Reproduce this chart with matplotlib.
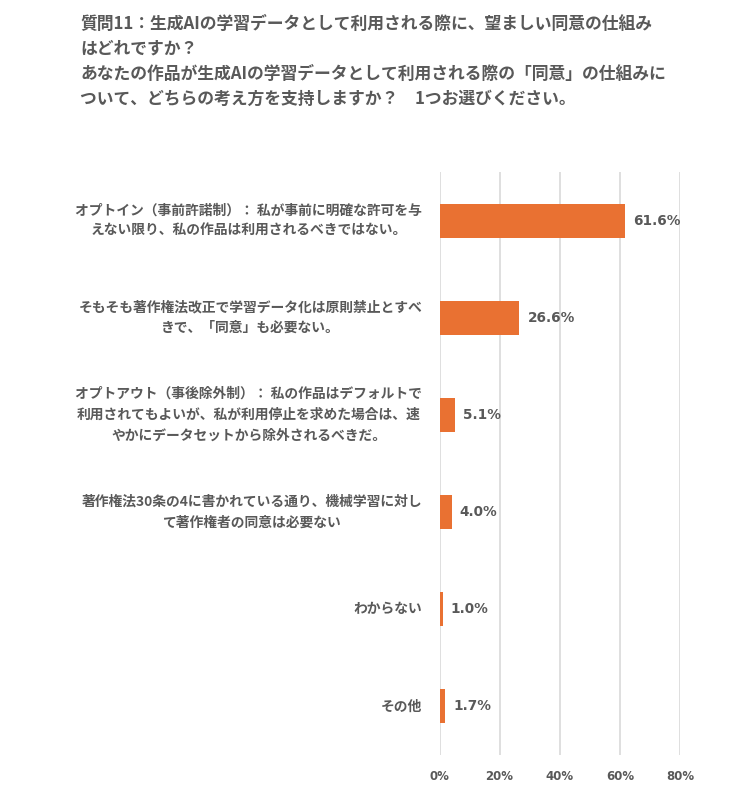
import matplotlib
matplotlib.use("Agg")
import matplotlib.pyplot as plt

plt.rcParams['font.family'] = ['Noto Sans CJK JP', 'DejaVu Sans']

categories = [
    "オプトイン（事前許諾制）： 私が事前に明確な許可を与\nえない限り、私の作品は利用されるべきではない。",
    "そもそも著作権法改正で学習データ化は原則禁止とすべ\nきで、「同意」も必要ない。",
    "オプトアウト（事後除外制）： 私の作品はデフォルトで\n利用されてもよいが、私が利用停止を求めた場合は、速\nやかにデータセットから除外されるべきだ。",
    "著作権法30条の4に書かれている通り、機械学習に対し\nて著作権者の同意は必要ない",
    "わからない",
    "その他",
]
values = [61.6, 26.6, 5.1, 4.0, 1.0, 1.7]
xticks = [0, 20, 40, 60, 80]
xtick_labels = ["0%", "20%", "40%", "60%", "80%"]
title = ("質問11：生成AIの学習データとして利用される際に、望ましい同意の仕組み\n"
         "はどれですか？\n"
         "あなたの作品が生成AIの学習データとして利用される際の「同意」の仕組みに\n"
         "ついて、どちらの考え方を支持しますか？　1つお選びください。")

TXT = "#595959"
BAR = "#E97132"

fig = plt.figure(figsize=(7.5, 7.96), dpi=100)
ax = fig.add_axes([439.5/750, 1-755/796, (680-439.5)/750, (755-172)/796])

ypos = list(range(len(categories)))
ax.barh(ypos, values, height=0.35, color=BAR, zorder=3)
ax.set_ylim(len(categories)-0.5, -0.5)
ax.set_xlim(0, 80)
ax.set_xticks(xticks)
ax.set_xticklabels(xtick_labels, color=TXT, fontsize=8.5, fontweight='bold',
                   family=['DejaVu Sans'])
ax.set_yticks(ypos)
ax.set_yticklabels([])
ax.tick_params(axis='both', length=0)
ax.tick_params(axis='x', pad=11)
for s in ax.spines.values():
    s.set_visible(False)
ax.grid(axis='x', color='#D9D9D9', linewidth=1.2, zorder=0)

cat_texts = []
for y, (cat, v) in enumerate(zip(categories, values)):
    t = ax.annotate(cat, xy=(0, y), xycoords='data', xytext=(-18, 0), textcoords='offset points',
                    ha='center', va='center', multialignment='center',
                    fontsize=9.95, fontweight='bold', color=TXT, linespacing=1.62,
                    annotation_clip=False)
    cat_texts.append(t)
    ax.annotate(f"{v:.1f}%", xy=(v, y), xytext=(6, 0), textcoords='offset points',
                ha='left', va='center', fontsize=9.8, fontweight='bold', color=TXT,
                family=['DejaVu Sans'])

fig.canvas.draw()
r = fig.canvas.get_renderer()
for t in cat_texts:
    bb = t.get_window_extent(r)
    dx = 422 - bb.x1
    ox, oy = t.xyann
    t.xyann = (ox + dx * 72 / 100, oy)

fig.text(80/750, 1-15/796, title, ha='left', va='top', fontsize=12.1, fontweight='bold',
         color=TXT, linespacing=1.5)

fig.savefig("out.png", dpi=100, facecolor='white')
